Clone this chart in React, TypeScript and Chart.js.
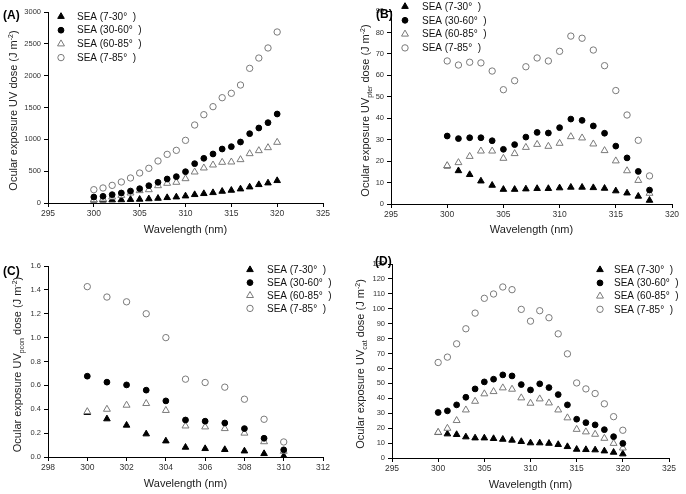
import React, { useEffect, useRef } from 'react';
import { Chart, registerables } from 'chart.js';

Chart.register(...registerables);

const FONT = '"Liberation Sans", Arial, Helvetica, sans-serif';

const seriesLabels = ['SEA (7-30°  )', 'SEA (30-60°  )', 'SEA (60-85°  )', 'SEA (7-85°  )'];

// Panel A — ocular exposure UV dose
const wlA = [300, 301, 302, 303, 304, 305, 306, 307, 308, 309, 310, 311, 312, 313, 314, 315, 316, 317, 318, 319, 320];
const a730 = [45, 45, 48, 50, 55, 58, 65, 73, 84, 94, 110, 131, 147, 162, 183, 199, 220, 251, 288, 314, 351];
const a3060 = [94, 105, 131, 157, 188, 225, 272, 325, 377, 414, 492, 618, 702, 770, 848, 885, 958, 1089, 1178, 1262, 1398];
const a6085 = [52, 63, 94, 120, 157, 194, 209, 272, 309, 325, 382, 487, 550, 597, 639, 644, 681, 775, 822, 869, 953];
const a785 = [209, 236, 277, 330, 393, 471, 545, 660, 764, 827, 984, 1225, 1387, 1513, 1654, 1723, 1853, 2115, 2277, 2435, 2686];

// Panel B — UVpter
const wlB = [300, 301, 302, 303, 304, 305, 306, 307, 308, 309, 310, 311, 312, 313, 314, 315, 316, 317, 318];
const b730 = [17.7, 15.5, 13.7, 10.7, 8.7, 6.8, 6.8, 7.0, 7.2, 7.2, 7.5, 7.8, 7.8, 7.6, 7.3, 6.1, 5.1, 3.6, 1.7];
const b3060 = [31.7, 30.5, 30.9, 30.9, 29.5, 25.5, 27.7, 31.2, 33.4, 33.1, 35.6, 39.6, 39.0, 36.4, 33.0, 27.0, 21.5, 15.2, 6.5];
const b6085 = [17.9, 19.3, 22.2, 24.7, 24.7, 21.3, 23.5, 26.4, 27.8, 26.9, 28.3, 31.4, 30.8, 28.0, 24.9, 20.1, 15.5, 11.0, 5.0];
const b785 = [66.7, 64.8, 66.1, 65.8, 62.0, 53.3, 57.5, 64.0, 68.1, 66.7, 71.2, 78.3, 77.3, 71.8, 64.5, 52.9, 41.5, 29.7, 13.1];

// Panel C — UVpcon
const wlC = [300, 301, 302, 303, 304, 305, 306, 307, 308, 309, 310];
const c730 = [0.372, 0.319, 0.266, 0.193, 0.134, 0.081, 0.07, 0.062, 0.05, 0.028, 0.008];
const c3060 = [0.677, 0.627, 0.604, 0.56, 0.47, 0.31, 0.3, 0.285, 0.238, 0.157, 0.06];
const c6085 = [0.38, 0.4, 0.434, 0.448, 0.39, 0.26, 0.252, 0.238, 0.2, 0.128, 0.048];
const c785 = [1.427, 1.34, 1.3, 1.2, 1.0, 0.652, 0.624, 0.585, 0.484, 0.316, 0.126];

// Panel D — UVcat
const wlD = [300, 301, 302, 303, 304, 305, 306, 307, 308, 309, 310, 311, 312, 313, 314, 315, 316, 317, 318, 319, 320];
const d730 = [17.0, 16.1, 15.7, 14.1, 13.4, 13.4, 13.0, 12.5, 11.9, 11.0, 10.1, 10.1, 9.8, 9.0, 7.6, 5.8, 5.6, 5.4, 4.7, 3.8, 2.7];
const d3060 = [30.5, 31.6, 35.6, 40.7, 46.3, 51.0, 52.8, 55.7, 55.0, 49.2, 45.6, 49.7, 47.2, 42.5, 35.6, 26.0, 23.7, 22.2, 19.0, 14.3, 9.8];
const d6085 = [17.2, 19.9, 25.1, 32.2, 38.0, 43.0, 44.5, 47.0, 46.1, 40.3, 36.7, 39.6, 36.9, 32.2, 26.9, 19.2, 17.5, 15.9, 13.2, 9.8, 6.7];
const d785 = [64.0, 67.6, 76.5, 86.6, 97.1, 107.0, 109.9, 114.6, 112.8, 99.6, 91.7, 98.7, 94.0, 83.2, 69.8, 50.3, 46.3, 43.2, 36.3, 27.7, 18.6];

// Axis ranges / ticks
const xRangeA = [295, 325, 5];
const xRangeB = [295, 320, 5];
const xRangeC = [298, 312, 2];
const xRangeD = [295, 325, 5];
const yRangeA = [0, 3000, 500];
const yRangeB = [0, 90, 10];
const yRangeC = [0, 1.6, 0.2];
const yRangeD = [0, 130, 10];

const W = 343;
const H = 247;
const YAXIS_W = 30;
const XAXIS_H = 24;

type Style = { tri: boolean; fill: string; stroke: string; r: number; order: number };
const styles: Style[] = [
  { tri: true, fill: '#000', stroke: '#000', r: 3.8, order: 4 },
  { tri: false, fill: '#000', stroke: '#000', r: 2.9, order: 2 },
  { tri: true, fill: '#fff', stroke: '#7a7a7a', r: 4.0, order: 3 },
  { tri: false, fill: '#fff', stroke: '#7a7a7a', r: 3.2, order: 1 },
];

type PanelCfg = {
  left: number; top: number;
  tag: string; tagX: number; tagY: number;
  sub: string;
  wl: number[]; series: number[][];
  xr: number[]; yr: number[]; yDec: number;
  area: [number, number, number, number];
  yTitleX: number; xTitleY: number;
  legX: number; legTextX: number; legY: number; legDy: number;
};

const panels: PanelCfg[] = [
  {
    left: 0, top: 0, tag: '(A)', tagX: 3, tagY: 16, sub: '',
    wl: wlA, series: [a730, a3060, a6085, a785], xr: xRangeA, yr: yRangeA, yDec: 0,
    area: [48, 12, 323, 203], yTitleX: 13, xTitleY: 230,
    legX: 61, legTextX: 77, legY: 16.5, legDy: 13.7,
  },
  {
    left: 343, top: 0, tag: '(B)', tagX: 33, tagY: 15, sub: 'pter',
    wl: wlB, series: [b730, b3060, b6085, b785], xr: xRangeB, yr: yRangeB, yDec: 0,
    area: [48, 11, 329, 204], yTitleX: 22, xTitleY: 230,
    legX: 62, legTextX: 79, legY: 6.5, legDy: 13.8,
  },
  {
    left: 0, top: 247, tag: '(C)', tagX: 3, tagY: 25, sub: 'pcon',
    wl: wlC, series: [c730, c3060, c6085, c785], xr: xRangeC, yr: yRangeC, yDec: 1,
    area: [48, 19, 323, 210], yTitleX: 17, xTitleY: 237,
    legX: 250, legTextX: 267, legY: 22.7, legDy: 12.9,
  },
  {
    left: 343, top: 247, tag: '(D)', tagX: 32, tagY: 15, sub: 'cat',
    wl: wlD, series: [d730, d3060, d6085, d785], xr: xRangeD, yr: yRangeD, yDec: 0,
    area: [49, 17, 326, 211], yTitleX: 17, xTitleY: 238,
    legX: 257, legTextX: 271, legY: 22.7, legDy: 13.2,
  },
];

function drawMarker(ctx: CanvasRenderingContext2D, st: Style, x: number, y: number) {
  ctx.beginPath();
  if (st.tri) {
    const r = st.r;
    ctx.moveTo(x, y - r);
    ctx.lineTo(x + r * 0.866, y + r * 0.5);
    ctx.lineTo(x - r * 0.866, y + r * 0.5);
    ctx.closePath();
  } else {
    ctx.arc(x, y, st.r, 0, Math.PI * 2);
  }
  ctx.fillStyle = st.fill;
  ctx.fill();
  ctx.lineWidth = 1;
  ctx.strokeStyle = st.stroke;
  ctx.stroke();
}

function decoPlugin(cfg: PanelCfg) {
  return {
    id: 'deco' + cfg.tag,
    afterDraw(chart: any) {
      const ctx: CanvasRenderingContext2D = chart.ctx;
      const ca = chart.chartArea;
      ctx.save();
      // panel tag
      ctx.fillStyle = '#000';
      ctx.font = `bold 12px ${FONT}`;
      ctx.textAlign = 'left';
      ctx.textBaseline = 'middle';
      ctx.fillText(cfg.tag, cfg.tagX, cfg.tagY);

      // x title
      ctx.font = `11px ${FONT}`;
      ctx.textAlign = 'center';
      ctx.fillStyle = '#222';
      ctx.fillText('Wavelength (nm)', (ca.left + ca.right) / 2, cfg.xTitleY);

      // y title with sub/superscripts
      const segs: { t: string; kind: 'n' | 'sub' | 'sup' }[] = [
        { t: 'Ocular exposure UV', kind: 'n' },
        { t: cfg.sub, kind: 'sub' },
        { t: ' dose (J m', kind: 'n' },
        { t: '-2', kind: 'sup' },
        { t: ')', kind: 'n' },
      ];
      const fontFor = (k: string) => (k === 'n' ? `11px ${FONT}` : `7px ${FONT}`);
      let total = 0;
      const widths = segs.map((s) => {
        ctx.font = fontFor(s.kind);
        const w = ctx.measureText(s.t).width;
        total += w;
        return w;
      });
      ctx.translate(cfg.yTitleX, (ca.top + ca.bottom) / 2 + 3);
      ctx.rotate(-Math.PI / 2);
      ctx.textAlign = 'left';
      ctx.textBaseline = 'alphabetic';
      let px = -total / 2;
      segs.forEach((s, i) => {
        ctx.font = fontFor(s.kind);
        const dy = s.kind === 'sub' ? 3 : s.kind === 'sup' ? -4.5 : 0;
        ctx.fillText(s.t, px, 4 + dy);
        px += widths[i];
      });
      ctx.setTransform(1, 0, 0, 1, 0, 0);

      // legend
      ctx.font = `10px ${FONT}`;
      ctx.fillStyle = '#111';
      ctx.textAlign = 'left';
      ctx.textBaseline = 'middle';
      seriesLabels.forEach((lab, i) => {
        const y = cfg.legY + i * cfg.legDy;
        drawMarker(ctx, styles[i], cfg.legX, y);
        ctx.fillStyle = '#111';
        ctx.fillText(lab, cfg.legTextX, y + 0.5);
      });
      ctx.restore();
    },
  };
}

function Panel({ cfg }: { cfg: PanelCfg }) {
  const ref = useRef<HTMLCanvasElement | null>(null);
  useEffect(() => {
    if (!ref.current) return;
    const [L, T, R, B] = cfg.area;
    const datasets = cfg.series.map((vals, i) => {
      const st = styles[i];
      return {
        label: seriesLabels[i],
        data: cfg.wl.map((x, j) => ({ x, y: vals[j] })),
        pointStyle: st.tri ? 'triangle' : 'circle',
        pointRadius: st.r,
        pointBackgroundColor: st.fill,
        pointBorderColor: st.stroke,
        pointBorderWidth: 1,
        backgroundColor: st.fill,
        borderColor: st.stroke,
        order: st.order,
        showLine: false,
      };
    });
    const tickFontY = { family: FONT, size: 7.5 };
    const tickFontX = { family: FONT, size: 8.5 };
    const chart = new Chart(ref.current, {
      type: 'scatter',
      data: { datasets },
      options: {
        responsive: false,
        animation: false,
        devicePixelRatio: 1,
        events: [],
        layout: {
          padding: { left: L - YAXIS_W, top: T, right: W - R, bottom: H - B - XAXIS_H },
        },
        plugins: { legend: { display: false }, tooltip: { enabled: false } },
        scales: {
          x: {
            type: 'linear',
            min: cfg.xr[0],
            max: cfg.xr[1],
            afterFit: (s: any) => { s.height = XAXIS_H; },
            ticks: {
              stepSize: cfg.xr[2],
              autoSkip: false,
              maxRotation: 0,
              padding: 2,
              color: '#333',
              font: tickFontX,
              callback: (v: any) => String(Math.round(Number(v))),
            },
            grid: { display: true, drawOnChartArea: false, drawTicks: true, tickLength: 4, color: '#000', lineWidth: 1 },
            border: { display: true, color: '#000', width: 1 },
          },
          y: {
            type: 'linear',
            min: cfg.yr[0],
            max: cfg.yr[1],
            afterFit: (s: any) => { s.width = YAXIS_W; },
            ticks: {
              stepSize: cfg.yr[2],
              autoSkip: false,
              padding: 3,
              color: '#333',
              font: tickFontY,
              callback: (v: any) => Number(v).toFixed(cfg.yDec),
            },
            grid: { display: true, drawOnChartArea: false, drawTicks: true, tickLength: 4, color: '#000', lineWidth: 1 },
            border: { display: true, color: '#000', width: 1 },
          },
        },
      } as any,
      plugins: [decoPlugin(cfg)],
    });
    return () => chart.destroy();
  }, [cfg]);
  return (
    <canvas
      ref={ref}
      width={W}
      height={H}
      style={{ position: 'absolute', left: cfg.left, top: cfg.top, width: W, height: H }}
    />
  );
}

export default function App() {
  return (
    <div style={{ position: 'absolute', left: 0, top: 0, width: 686, height: 494, background: '#fff' }}>
      {panels.map((p) => (
        <Panel key={p.tag} cfg={p} />
      ))}
    </div>
  );
}
